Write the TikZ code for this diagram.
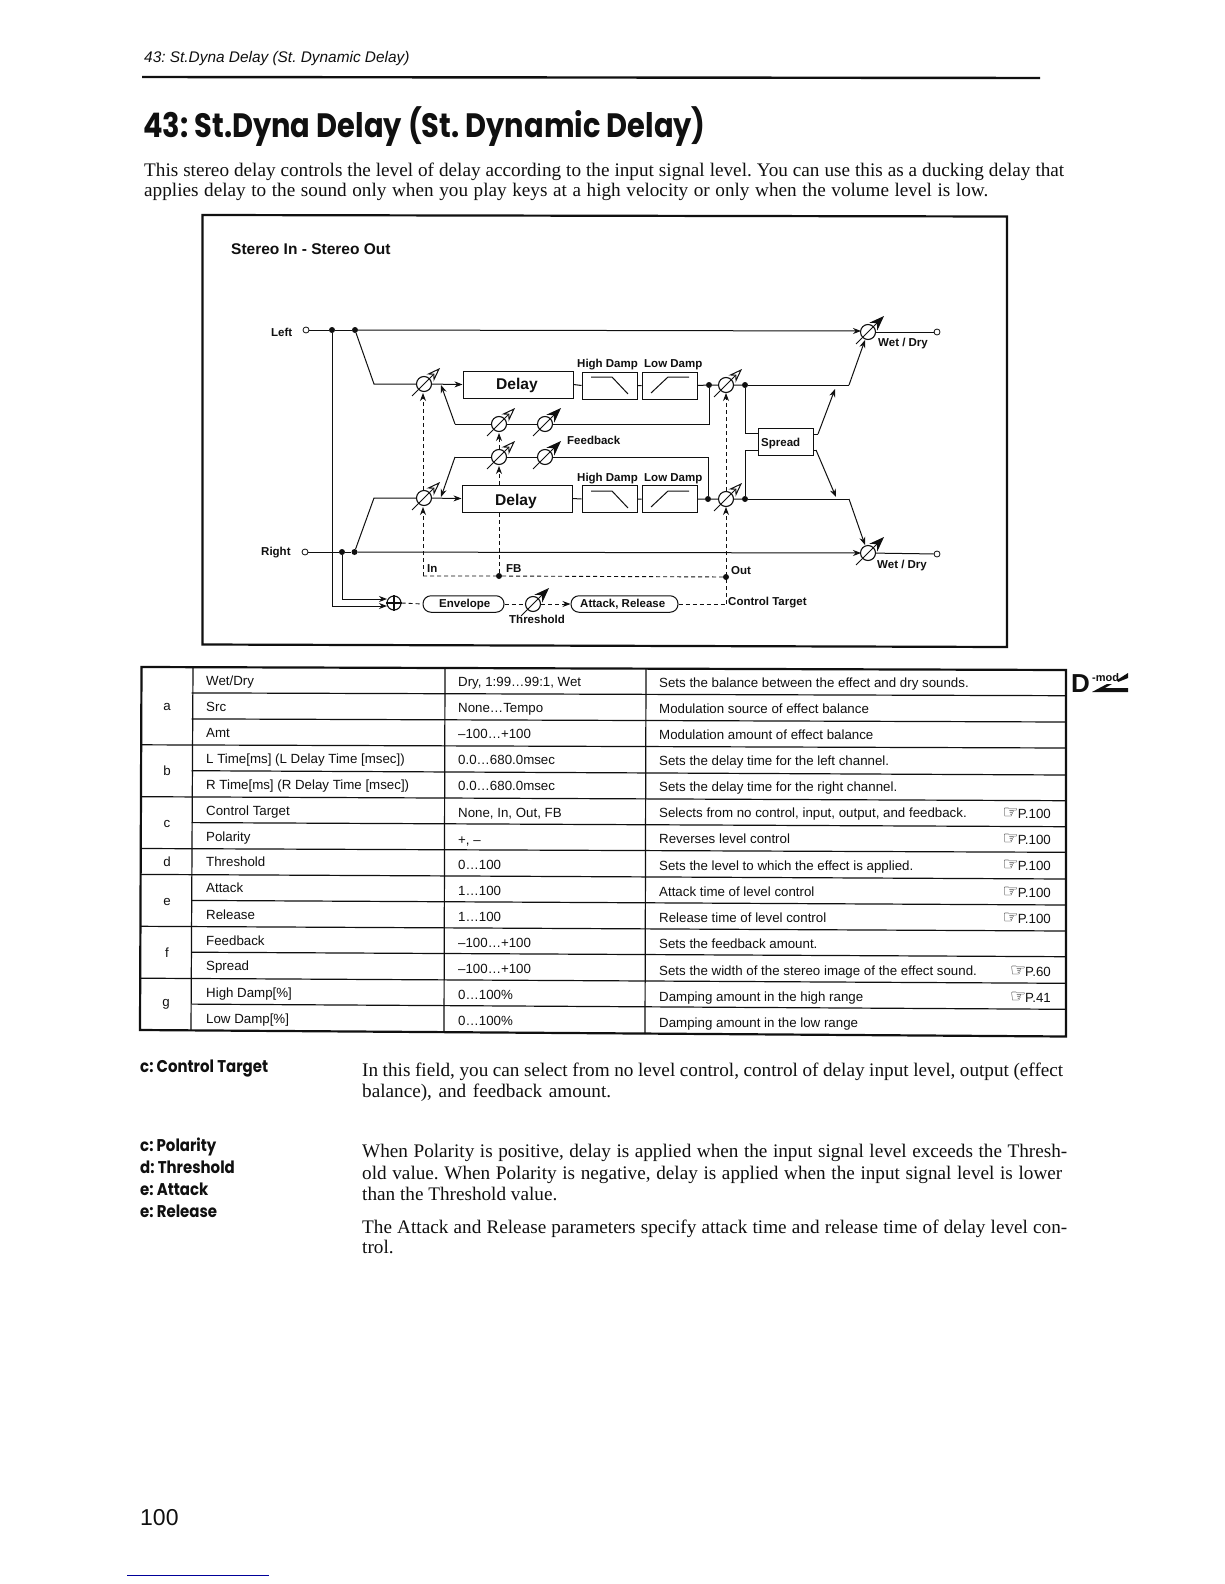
\documentclass[tikz,border=0pt]{standalone}
\usepackage{fontspec}
\usetikzlibrary{arrows.meta}
\setmainfont{Liberation Serif}
\newfontfamily\hv{Liberation Sans}
\newfontfamily\hd{Poppins}[FakeStretch=0.88]
\newfontfamily\hdt{Poppins}[FakeStretch=0.855]
\newfontfamily\sym{DejaVu Sans}
\definecolor{ink}{HTML}{101010}
\AtBeginDocument{\frenchspacing}
\newcommand{\fs}[1]{\fontsize{#1}{#1}\selectfont}
\newcounter{tn}
\newcommand{\T}[4][]{\stepcounter{tn}\node[txt,#1] (t\arabic{tn}) at (#2,#3) {#4};}
\newcommand{\BL}[4]{\stepcounter{tn}\node[body] (t\arabic{tn}) at (#1,#2) {\hbox to #3pt{#4}};}
\newcommand{\vca}[4]{%
  \node[vcirc] (#1) at (#2,#3) {};
  \draw[#4] (#2-12,#3+12) -- (#2+16,#3-16);}
\newcommand{\jn}[3]{\node[dot] (#1) at (#2,#3) {};}
\newcommand{\tm}[3]{\node[term] (#1) at (#2,#3) {};}
\tikzset{
  txt/.style={anchor=base west,inner sep=0pt,text=ink},
  lbl/.style={txt,font=\hv\bfseries\fs{11.5}},
  body/.style={txt,font=\fs{19.2}},
  bhead/.style={txt,font=\hd\bfseries\fs{17}},
  cell/.style={txt,font=\hv\fs{13.3}},
  vcirc/.style={circle,draw=ink,line width=1.1pt,fill=white,minimum size=15pt,inner sep=0pt},
  vh/.style={draw=ink,line width=1pt,-{Stealth[open,fill=white,length=14pt,width=10pt]}},
  vf/.style={draw=ink,line width=1pt,-{Stealth[length=15pt,width=11pt]}},
  dot/.style={circle,fill=ink,minimum size=6pt,inner sep=0pt},
  term/.style={circle,draw=ink,fill=white,line width=.8pt,minimum size=6pt,inner sep=0pt},
  boxn/.style={draw=ink,line width=1pt,fill=white,inner sep=0pt,minimum height=27pt},
  wire/.style={draw=ink,line width=1pt},
  arr/.style={wire,-{Stealth[length=8pt,width=6pt]}},
  dsh/.style={draw=ink,line width=.9pt,dash pattern=on 4pt off 3pt},
  darr/.style={dsh,-{Stealth[length=8pt,width=6pt]}},
  pill/.style={draw=ink,line width=1pt,fill=white,rounded corners=8pt,inner sep=0pt,minimum height=16.5pt},
  thin/.style={draw=ink,line width=1.2pt},
  thick/.style={draw=ink,line width=2.2pt}
}
\begin{document}
\begin{tikzpicture}[x=1pt,y=-1pt]
\useasboundingbox (0,0) rectangle (1224,1584);
\fill[white] (0,0) rectangle (1224,1584);
% page head
\T[font=\hv\itshape\fs{15.4}]{144}{62.5}{43: St.Dyna Delay (St. Dynamic Delay)}
\draw[draw=ink,line width=2.4pt] (142,77) -- (1040,78);
\T[font=\hdt\bfseries\fs{33.8}]{143}{138}{43: St.Dyna Delay (St. Dynamic Delay)}
\BL{144}{176}{920}{This stereo delay controls the level of delay according to the input signal level. You can use this as a ducking delay that}
\BL{144}{196.5}{844}{applies delay to the sound only when you play keys at a high velocity or only when the volume level is low.}
% frame
\draw[thick] (202.5,215) -- (1007,216.5) -- (1007,647) -- (202.5,644.5) -- cycle;
\T[font=\hv\bfseries\fs{15.5}]{231}{254}{Stereo In - Stereo Out}
% diagram nodes
\tm{inL}{306}{330} \tm{inR}{305}{552} \tm{outL}{937}{332} \tm{outR}{937}{554}
\jn{jA}{332}{330} \jn{jB}{355}{330} \jn{jC}{342}{552} \jn{jD}{354.5}{552}
\coordinate (bendL) at (374,384); \coordinate (bendR) at (374,498);
\node[boxn,minimum width=110pt] (delayL) at (518,384.5) {};
\node[boxn,minimum width=110pt] (delayR) at (517,498.5) {};
\node[boxn,minimum width=55pt] (hdL) at (609.5,385.5) {};
\node[boxn,minimum width=55pt] (ldL) at (669.5,385.5) {};
\node[boxn,minimum width=55pt] (hdR) at (609.5,499) {};
\node[boxn,minimum width=55pt] (ldR) at (669.5,499) {};
\node[boxn,minimum width=55pt] (spread) at (785.5,441.5) {};
\jn{jE}{709}{385} \jn{jF}{745}{385} \jn{jG}{708}{499} \jn{jH}{745}{499}
\jn{jI}{499}{576} \jn{jJ}{726}{577}
\coordinate (oL) at (849,385); \coordinate (oLe) at (865,340);
\coordinate (oR) at (849,499); \coordinate (oRe) at (865,545);
% wires under the level symbols
\draw[wire] (inL) -- (jA) -- (jB);
\draw[arr] (jB) -- (861,331);
\draw[wire] (inR) -- (jC) -- (jD);
\draw[arr] (jD) -- (861,553);
\draw[wire] (868,332) -- (outL);
\draw[wire] (868,553) -- (outR);
\draw[wire] (jB) -- (bendL) -- (424,384);
\draw[wire] (jD) -- (bendR) -- (424,498);
\draw[arr] (424,384) -- (delayL.west);
\draw[arr] (424,498) -- (delayR.west);
\draw[wire] (delayL.east) -- (hdL.west) (hdL.east) -- (ldL.west) (ldL.east) -- (jE) -- (jF);
\draw[wire] (delayR.east) -- (hdR.west) (hdR.east) -- (ldR.west) (ldR.east) -- (jG) -- (jH);
\draw[wire] (jE) -- (709,424) -- (455,424);
\draw[arr] (455,424) -- (441,385);
\draw[wire] (jG) -- (708,457) -- (455,457);
\draw[arr] (455,457) -- (441,497);
\draw[wire] (jF) -- (oL); \draw[arr] (oL) -- (oLe);
\draw[wire] (jH) -- (oR); \draw[arr] (oR) -- (oRe);
\draw[wire] (jF) -- (745,433) -- (758,433);
\draw[wire] (jH) -- (745,450) -- (758,450);
\draw[wire] (813,434) -- (818,434); \draw[arr] (818,434) -- (835,389);
\draw[wire] (813,450) -- (816,450); \draw[arr] (816,450) -- (836,497);
% control dashes
\draw[dsh] (423,576) -- (jI) -- (jJ);
\draw[darr] (423,576) -- (423,507);
\draw[darr] (423,490) -- (423,393);
\draw[dsh] (jI) -- (delayR.south -| jI);
\draw[darr] (delayR.north -| jI) -- (499,466);
\draw[darr] (499,449) -- (499,433);
\draw[darr] (726,604) -- (726,507);
\draw[darr] (726,491) -- (726,393);
% level symbols
\vca{vL}{424}{384}{vh} \vca{vR}{424}{498}{vh}
\vca{fLa}{499}{424}{vh} \vca{fRa}{499}{457}{vh}
\vca{fLb}{545}{424}{vf} \vca{fRb}{545}{457}{vf}
\vca{oLv}{726}{385}{vh} \vca{oRv}{726}{499}{vh}
\vca{wL}{868}{332}{vf} \vca{wR}{868}{553}{vf}
% envelope chain
\node[circle,draw=ink,line width=1.1pt,fill=white,minimum size=14pt,inner sep=0pt] (sum) at (394,603) {};
\draw[draw=ink,line width=1.1pt] (sum.north) -- (sum.south) (sum.west) -- (sum.east);
\draw[wire] (jA) -- (332,606); \draw[arr] (332,606) -- (387,606);
\draw[wire] (jC) -- (342,599); \draw[arr] (342,599) -- (387,599);
\node[pill,minimum width=81pt] (env) at (463.5,604) {};
\node[pill,minimum width=107pt] (atk) at (624.5,604) {};
\draw[dsh] (sum.east) -- (env.west);
\draw[dsh] (env.east) -- (533,604);
\vca{thr}{533}{604}{vf}
\draw[darr] (thr.east) -- (atk.west);
\draw[dsh] (atk.east) -- (726,604);
% filter curves
\foreach \yy/\nn in {0/a,114/b}{
  \draw[wire] (591,377+\yy) -- (612,377+\yy) -- (628,394+\yy);
  \draw[wire] (651,393+\yy) -- (668,377+\yy) -- (689,377+\yy);
}
% diagram labels
\T[lbl]{271}{336}{Left}
\T[lbl]{261}{555}{Right}
\T[txt,font=\hv\bfseries\fs{15.6}]{496}{389}{Delay}
\T[txt,font=\hv\bfseries\fs{15.6}]{495}{505}{Delay}
\T[lbl]{577}{367}{High Damp} \T[lbl]{644}{367}{Low Damp}
\T[lbl]{577}{481}{High Damp} \T[lbl]{644}{481}{Low Damp}
\T[lbl]{567}{444}{Feedback}
\T[lbl]{761}{446}{Spread}
\T[lbl]{878}{346}{Wet / Dry}
\T[lbl]{877}{568}{Wet / Dry}
\T[lbl]{427}{572}{In} \T[lbl]{506}{572}{FB}
\T[lbl]{731}{574}{Out}
\T[lbl]{728}{605}{Control Target}
\T[lbl]{439}{607}{Envelope}
\T[lbl]{580}{607}{Attack, Release}
\T[lbl]{509}{623}{Threshold}
% table
\draw[thick] (141.5,667) -- (1066,670) -- (1066,1036.5) -- (140,1030) -- cycle;
\draw[thin] (193,667) -- (191,1030.5) (445,668) -- (444,1032.5) (646,669) -- (645,1034);
\foreach \yl/\yr in {692.9/695.7,718.9/722,770.7/775,822.6/826.7,900.4/905,952.2/956.7,1004.1/1009.3}
  \draw[thin] (191.5,\yl) -- (1066,\yr);
\foreach \yl/\yr in {744.8/748,796.7/800.7,848.5/852.3,874.4/879,926.3/931,978.2/983.3}
  \draw[thin] (140.5,\yl) -- (1066,\yr);
\T[cell]{206}{685.5}{Wet/Dry}\T[cell]{458}{686.5}{Dry, 1:99…99:1, Wet}\T[cell]{659}{687.5}{Sets the balance between the effect and dry sounds.}
\T[cell]{206}{711}{Src}\T[cell]{458}{712.6}{None…Tempo}\T[cell]{659}{713.5}{Modulation source of effect balance}
\T[cell]{206}{737}{Amt}\T[cell]{458}{738.7}{–100…+100}\T[cell]{659}{739.5}{Modulation amount of effect balance}
\T[cell]{206}{763.5}{L Time[ms] (L Delay Time [msec])}\T[cell]{458}{764.8}{0.0…680.0msec}\T[cell]{659}{765.5}{Sets the delay time for the left channel.}
\T[cell]{206}{789.5}{R Time[ms] (R Delay Time [msec])}\T[cell]{458}{790.9}{0.0…680.0msec}\T[cell]{659}{791.5}{Sets the delay time for the right channel.}
\T[cell]{206}{815}{Control Target}\T[cell]{458}{817}{None, In, Out, FB}\T[cell]{659}{817.5}{Selects from no control, input, output, and feedback.}
\T[cell]{206}{841}{Polarity}\T[cell]{458}{844}{+, –}\T[cell]{659}{843.5}{Reverses level control}
\T[cell]{206}{866.5}{Threshold}\T[cell]{458}{869.2}{0…100}\T[cell]{659}{870}{Sets the level to which the effect is applied.}
\T[cell]{206}{892.5}{Attack}\T[cell]{458}{895.3}{1…100}\T[cell]{659}{896}{Attack time of level control}
\T[cell]{206}{919}{Release}\T[cell]{458}{921.4}{1…100}\T[cell]{659}{922.5}{Release time of level control}
\T[cell]{206}{945}{Feedback}\T[cell]{458}{947.5}{–100…+100}\T[cell]{659}{948.5}{Sets the feedback amount.}
\T[cell]{206}{970.5}{Spread}\T[cell]{458}{973.6}{–100…+100}\T[cell]{659}{975}{Sets the width of the stereo image of the effect sound.}
\T[cell]{206}{997}{High Damp[\%]}\T[cell]{458}{999.7}{0…100\%}\T[cell]{659}{1001}{Damping amount in the high range}
\T[cell]{206}{1023}{Low Damp[\%]}\T[cell]{458}{1025.8}{0…100\%}\T[cell]{659}{1027}{Damping amount in the low range}
\foreach \x/\y/\s in {167/710.5/a,167/775.5/b,167/827/c,167/866/d,167/905.5/e,167/957/f,166/1006/g}
  \node[txt,anchor=base,font=\hv\fs{13.3}] (grp\s) at (\x,\y) {\s};
% page references
\foreach \y/\p/\q in {818/100/r1,844/100/r2,870.5/100/r3,897/100/r4,923/100/r5,976/60/r6,1002/41/r7}
  \node[txt,anchor=base east,font=\hv\fs{13.3}] (ref\q) at (1051,\y) {{\sym\fs{18}☞}\kern-1pt P.\p};
% lower text
\T[bhead]{140}{1072}{c: Control Target}
\T[bhead]{140}{1151}{c: Polarity}
\T[bhead]{140}{1173}{d: Threshold}
\T[bhead]{140}{1195}{e: Attack}
\T[bhead]{140}{1217}{e: Release}
\BL{362}{1076}{701}{In this field, you can select from no level control, control of delay input level, output (effect}
\BL{362}{1097}{249}{balance), and feedback amount.}
\BL{362}{1157}{705}{When Polarity is positive, delay is applied when the input signal level exceeds the Thresh-}
\BL{362}{1179}{700}{old value. When Polarity is negative, delay is applied when the input signal level is lower}
\T[body]{362}{1200}{than the Threshold value.}
\BL{362}{1233}{705}{The Attack and Release parameters specify attack time and release time of delay level con-}
\T[body]{362}{1253}{trol.}
\T[font=\hv\fs{23}]{140}{1525}{100}
\draw[draw=blue!60!black,line width=1pt] (127,1575) -- (269,1575);
% D-mod mark
\T[font=\hv\bfseries\fs{26}]{1071}{692}{D}
\T[font=\hv\bfseries\fs{11}]{1092}{681}{-mod}
\fill[ink] (1117,680) -- (1128,673) -- (1128,678) -- (1118,682) -- cycle;
\fill[ink] (1092,692) -- (1107,684) -- (1112,684) -- (1105,688) -- (1128,688) -- (1128,692) -- cycle;
\end{tikzpicture}
\end{document}
